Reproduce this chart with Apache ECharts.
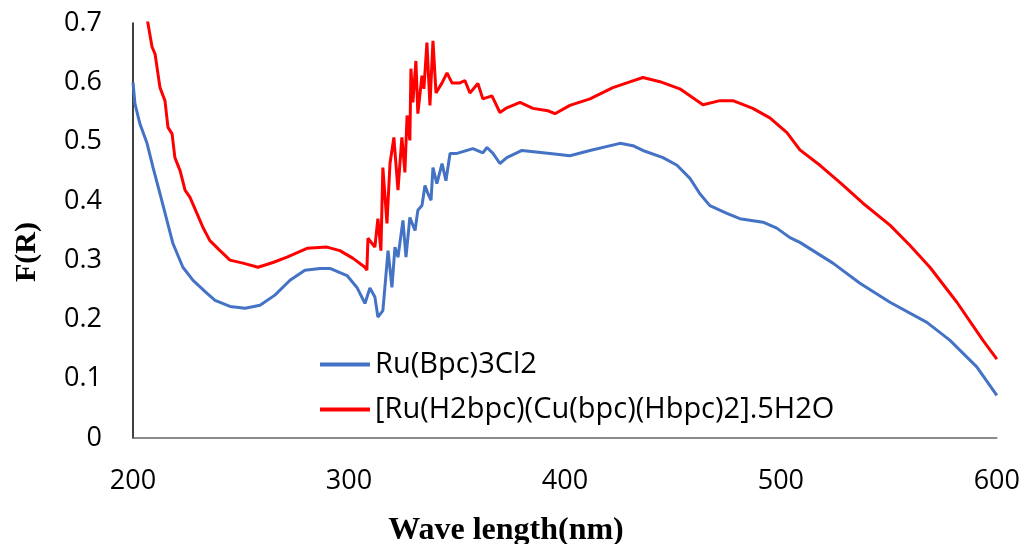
<!DOCTYPE html>
<html><head><meta charset="utf-8">
<script src="https://cdn.jsdelivr.net/npm/echarts@6/dist/echarts.min.js"></script>
<style>html,body{margin:0;padding:0;background:#fff}#c{width:1023px;height:544px}</style>
</head><body><div id="c"></div>
<script>
const seriesNames = ['Ru(Bpc)3Cl2', '[Ru(H2bpc)(Cu(bpc)(Hbpc)2].5H2O'];
const xTitle = 'Wave length(nm)';
const yTitle = 'F(R)';
const xTicks = [200, 300, 400, 500, 600];
const yTicks = [0, 0.1, 0.2, 0.3, 0.4, 0.5, 0.6, 0.7];

const blueX = [200.0,200.9,203.2,206.5,209.3,212.5,215.7,218.5,223.1,227.8,234.3,238.0,244.9,251.9,258.8,265.7,272.7,279.6,286.6,291.2,299.1,303.7,307.4,309.7,312.0,313.4,315.7,318.1,319.9,321.3,322.7,325.0,326.4,328.2,330.6,331.9,333.8,335.2,336.6,338.0,338.9,340.7,343.1,344.9,346.8,350.0,357.4,362.0,363.9,366.7,369.9,373.1,380.1,393.1,402.3,411.6,425.5,431.5,436.1,445.4,451.9,457.9,462.5,467.1,475.0,481.0,491.7,498.1,504.2,508.8,524.1,536.6,550.5,567.6,578.2,590.7,600.0];
const blueY = [0.60,0.564,0.53,0.497,0.456,0.412,0.367,0.328,0.288,0.266,0.244,0.232,0.222,0.219,0.224,0.241,0.266,0.283,0.286,0.286,0.274,0.254,0.227,0.253,0.238,0.204,0.215,0.316,0.254,0.322,0.305,0.367,0.305,0.372,0.35,0.384,0.392,0.426,0.412,0.401,0.456,0.429,0.463,0.434,0.48,0.48,0.488,0.481,0.49,0.48,0.463,0.473,0.485,0.48,0.476,0.485,0.497,0.493,0.485,0.473,0.46,0.438,0.412,0.392,0.379,0.37,0.364,0.354,0.338,0.33,0.295,0.261,0.229,0.195,0.165,0.12,0.072];

const redX = [200.0,204.0,206.9,208.8,210.2,212.5,214.8,216.2,218.1,219.4,221.8,224.1,226.4,229.6,232.4,235.6,240.3,244.9,250.9,257.9,264.8,271.3,280.6,289.8,295.8,301.9,307.4,308.3,308.8,312.0,313.4,314.8,315.7,317.6,319.0,320.8,322.7,324.5,325.9,326.9,328.2,328.7,329.6,331.0,331.9,333.8,334.7,336.1,337.5,338.9,340.3,343.1,345.4,347.7,351.4,353.7,356.0,359.7,362.0,366.2,369.9,373.1,379.2,385.2,392.1,395.4,402.3,411.6,422.2,428.7,436.1,444.0,453.2,463.9,471.8,477.8,487.0,494.9,502.8,508.8,518.1,527.3,538.0,550.5,559.7,569.0,581.5,593.5,600.0];
const redY = [0.84,0.76,0.70,0.66,0.648,0.591,0.569,0.524,0.513,0.473,0.451,0.418,0.406,0.379,0.355,0.333,0.316,0.30,0.295,0.288,0.296,0.305,0.32,0.322,0.316,0.303,0.288,0.283,0.337,0.322,0.37,0.316,0.456,0.362,0.463,0.507,0.418,0.507,0.448,0.544,0.502,0.623,0.566,0.636,0.547,0.611,0.589,0.667,0.561,0.67,0.582,0.599,0.616,0.599,0.599,0.603,0.582,0.598,0.572,0.577,0.549,0.557,0.566,0.556,0.552,0.547,0.561,0.572,0.591,0.599,0.608,0.601,0.589,0.562,0.569,0.569,0.556,0.54,0.515,0.486,0.46,0.431,0.396,0.359,0.325,0.288,0.229,0.165,0.133];

const zip = (xs, ys) => xs.map((x, i) => [x, ys[i]]);
const chart = echarts.init(document.getElementById('c'), null, {renderer: 'canvas'});
const tickFont = {fontFamily: 'Open Sans', fontSize: 27, color: '#000'};
const titleFont = 'bold 32px "Liberation Serif"';
chart.setOption({
  animation: false,
  backgroundColor: '#fff',
  grid: {left: 133, right: 26, top: 23, bottom: 106, containLabel: false},
  legend: {
    orient: 'vertical', left: 315, top: 345, itemGap: 16,
    itemWidth: 50, itemHeight: 4, icon: 'rect',
    textStyle: {fontFamily: 'Open Sans', fontSize: 29, color: '#000'},
    data: seriesNames
  },
  graphic: [
    {type: 'text', x: 506, y: 531, style: {text: xTitle, font: titleFont, fill: '#000', textAlign: 'center', textVerticalAlign: 'middle'}},
    {type: 'text', x: 27, y: 252, rotation: Math.PI / 2, style: {text: yTitle, font: 'bold 30px "Liberation Serif"', fill: '#000', textAlign: 'center', textVerticalAlign: 'middle'}}
  ],
  xAxis: {
    type: 'value', min: xTicks[0], max: xTicks[xTicks.length-1], interval: 100,
    axisLine: {show: true, lineStyle: {color: '#666', width: 1.5}},
    axisTick: {show: false}, splitLine: {show: false},
    axisLabel: Object.assign({margin: 30}, tickFont)
  },
  yAxis: {
    type: 'value', min: yTicks[0], max: yTicks[yTicks.length-1], interval: 0.1,
    axisLine: {show: true, lineStyle: {color: '#000', width: 1.5}},
    axisTick: {show: false}, splitLine: {show: false},
    axisLabel: Object.assign({margin: 31, formatter: v => String(Math.round(v*10)/10)}, tickFont)
  },
  series: [
    {name: seriesNames[0], type: 'line', data: zip(blueX, blueY), showSymbol: false, symbol: 'none',
     clip: true, lineStyle: {color: '#4472C4', width: 3}, itemStyle: {color: '#4472C4'}},
    {name: seriesNames[1], type: 'line', data: zip(redX, redY), showSymbol: false, symbol: 'none',
     clip: true, lineStyle: {color: '#FF0000', width: 3}, itemStyle: {color: '#FF0000'}}
  ]
});
</script></body></html>
